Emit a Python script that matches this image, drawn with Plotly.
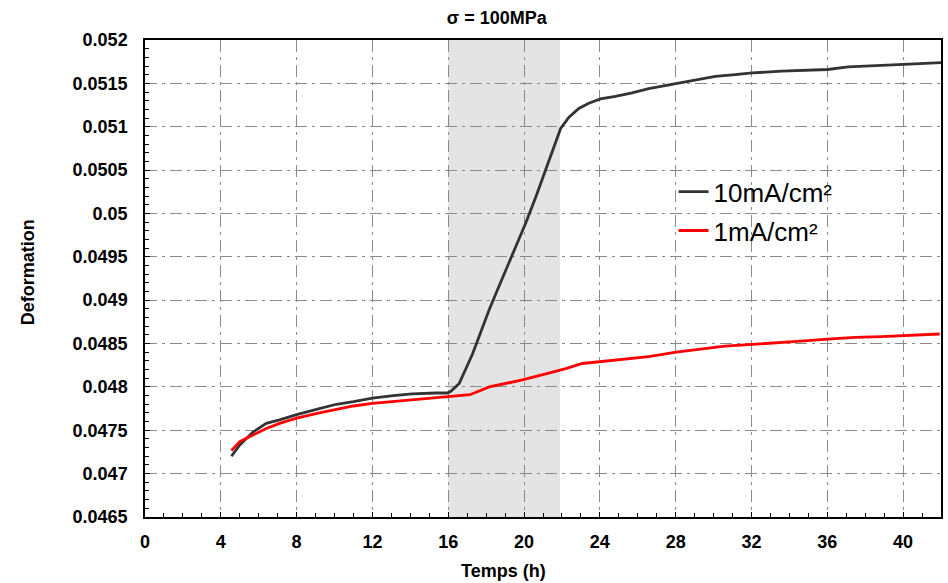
import plotly.graph_objects as go

# ---- data ----
time_10 = [4.56, 5.0, 5.7, 6.4, 7.1, 8.0, 9.2, 10.1, 11.0, 12.0, 13.1, 14.1, 15.35, 15.95,
           16.14, 16.58, 16.93, 17.28, 17.63, 18.16, 18.6, 19.04, 19.56, 20.09, 20.62, 21.14,
           21.58, 21.93, 22.37, 22.89, 23.42, 24.03, 24.82, 25.7, 26.58, 28.03, 29.2, 30.09,
           31.14, 32.04, 33.6, 35.0, 36.02, 37.1, 38.68, 40.02, 42.0]
def_10 = [0.04720, 0.04733, 0.04748, 0.04758, 0.04762, 0.04768, 0.04775, 0.04780, 0.04783,
          0.04787, 0.04790, 0.04792, 0.04793, 0.04793, 0.04795, 0.04804, 0.04821, 0.04838,
          0.04858, 0.04889, 0.04912, 0.04935, 0.04962, 0.04989, 0.05019, 0.05050, 0.05077,
          0.05098, 0.05111, 0.05121, 0.05127, 0.05132, 0.05135, 0.05139, 0.05144, 0.05150,
          0.05154, 0.05158, 0.05160, 0.05162, 0.05164, 0.05165, 0.05166, 0.05169, 0.05171,
          0.05172, 0.05174]

time_1 = [4.56, 5.0, 5.7, 6.4, 7.1, 8.0, 9.2, 10.1, 11.0, 12.0, 13.1, 14.1, 15.35, 16.2,
          17.15, 18.16, 19.91, 21.3, 22.2, 23.07, 24.03, 25.17, 26.58, 28.03, 29.2, 30.6,
          32.04, 33.6, 34.8, 36.02, 37.46, 38.86, 40.02, 41.93]
def_1 = [0.047265, 0.04737, 0.047446, 0.04752, 0.04758, 0.04764, 0.04770, 0.04774, 0.04778,
         0.04781, 0.04783, 0.04785, 0.04787, 0.04789, 0.04791, 0.04800, 0.04808, 0.04816,
         0.04821, 0.04827, 0.04829, 0.04832, 0.04835, 0.04840, 0.04843, 0.04847, 0.04849,
         0.04851, 0.04853, 0.04855, 0.04857, 0.04858, 0.04859, 0.04861]

series_names = ["10mA/cm²", "1mA/cm²"]
shade_start, shade_end = 16, 21.9
y_ticks = [0.0465, 0.047, 0.0475, 0.048, 0.0485, 0.049, 0.0495, 0.05, 0.0505, 0.051, 0.0515, 0.052]
y_tick_text = ["0.0465", "0.047", "0.0475", "0.048", "0.0485", "0.049", "0.0495", "0.05",
               "0.0505", "0.051", "0.0515", "0.052"]

FONT = "Liberation Sans, Arial, sans-serif"

fig = go.Figure()
fig.add_trace(go.Scatter(x=time_10, y=def_10, mode="lines", name=series_names[0],
                         line=dict(color="#333333", width=2.8), legendgroup="a"))
fig.add_trace(go.Scatter(x=time_1, y=def_1, mode="lines", name=series_names[1],
                         line=dict(color="#ff0000", width=2.8), legendgroup="b"))

fig.add_shape(type="rect", xref="x", yref="y", x0=shade_start, x1=shade_end,
              y0=0.0465, y1=0.052, fillcolor="#e4e4e4", line_width=0, layer="below")

grid = dict(showgrid=True, gridcolor="#8a8a8a", gridwidth=1, griddash="12px,5px,3px,5px")

fig.update_xaxes(range=[0, 42], tick0=0, dtick=4, ticks="inside", ticklen=5,
                 tickcolor="black", showline=True, linecolor="black", linewidth=1.5,
                 mirror=True, zeroline=False,
                 minor=dict(dtick=1, tick0=0, ticks="inside", ticklen=4, tickcolor="black",
                            showgrid=False),
                 tickfont=dict(family=FONT, size=18, color="black", weight="bold"),
                 ticklabelstandoff=8, **grid)
fig.update_yaxes(range=[0.0465, 0.052], tickvals=y_ticks, ticktext=y_tick_text,
                 ticks="inside", ticklen=5, tickcolor="black", showline=True,
                 linecolor="black", linewidth=1.5, mirror=True, zeroline=False,
                 minor=dict(dtick=0.0001, tick0=0.0465, ticks="inside", ticklen=4,
                            tickcolor="black", showgrid=False),
                 tickfont=dict(family=FONT, size=18, color="black", weight="bold"),
                 ticklabelstandoff=12, **grid)

fig.add_annotation(text="<b>Temps (h)</b>", xref="paper", yref="paper", x=0.45, y=-0.113,
                   xanchor="center", yanchor="middle", showarrow=False,
                   font=dict(family=FONT, size=18, color="black"))
fig.add_annotation(text="<b>Deformation</b>", xref="paper", yref="paper", x=-0.1466, y=0.5136,
                   xanchor="center", yanchor="middle", showarrow=False, textangle=-90,
                   font=dict(family=FONT, size=18, color="black"))

fig.update_layout(
    width=948, height=583,
    margin=dict(l=145, r=5, t=40, b=66),
    paper_bgcolor="white", plot_bgcolor="white",
    title=dict(text="<b>σ = 100MPa</b>", x=0.524, xref="container", xanchor="center",
               y=0.97, yref="container", yanchor="middle",
               font=dict(family=FONT, size=18, color="black")),
    legend=dict(x=0.664, y=0.731, xanchor="left", yanchor="top", bgcolor="rgba(0,0,0,0)",
                font=dict(family=FONT, size=26, color="black"), tracegroupgap=2),
    showlegend=True,
)

fig.write_html("out.html")
